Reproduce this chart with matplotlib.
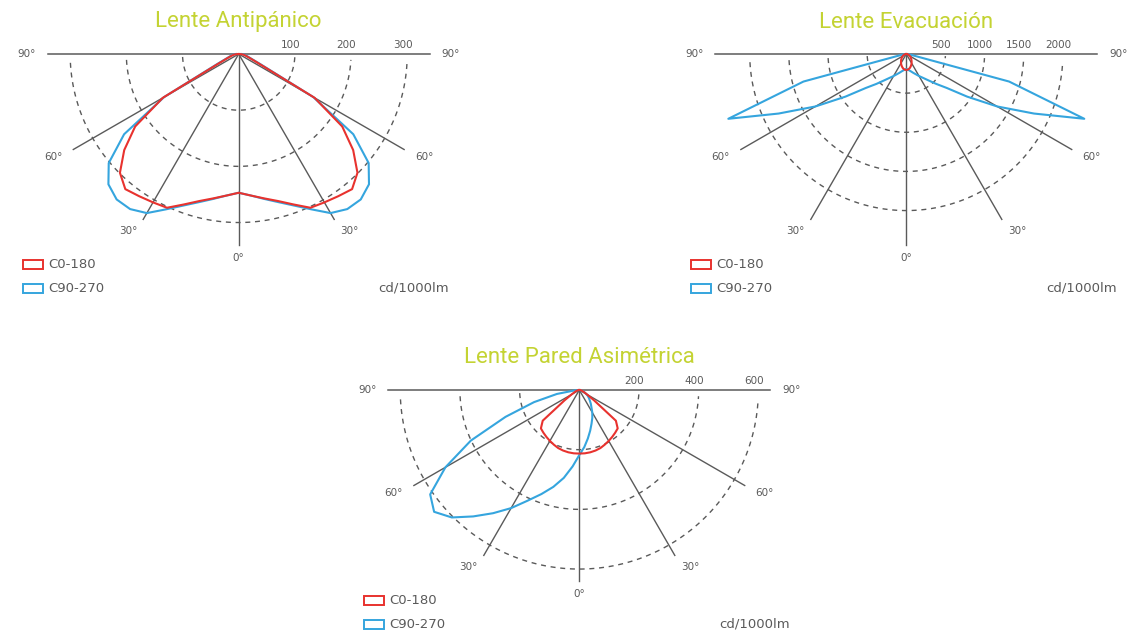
import numpy as np
import matplotlib.pyplot as plt
from matplotlib.patches import Rectangle

# углы от надира, градусы (шаг 5°)
ang = [0, 5, 10, 15, 20, 25, 30, 35, 40, 45, 50, 55, 60, 65, 70, 75, 80, 85, 90]

# Lente Antipánico, cd/1000lm
anti_c0 = [247, 253, 261, 271, 285, 302, 305, 309, 314, 299, 266, 225, 156, 38, 21, 14, 10, 6, 0]
anti_c90 = [247, 253, 262, 273, 287, 305, 327, 337, 338, 328, 302, 249, 153, 42, 23, 16, 12, 9, 5]
anti_ticks = [100, 200, 300]

# Lente Evacuación
evac_c0 = [204, 201, 194, 182, 167, 151, 135, 118, 103, 89, 76, 64, 53, 43, 33, 24, 16, 8, 0]
evac_c90 = [190, 200, 212, 230, 255, 285, 325, 372, 440, 540, 675, 950, 1340, 1800, 2420, 1360, 60, 25, 0]
evac_ticks = [500, 1000, 1500, 2000]

# Lente Pared Asimétrica (C90-270 несимметрична: левая / правая половины)
pared_c0 = [213, 213, 212, 210, 207, 202, 197, 192, 187, 182, 160, 60, 30, 18, 12, 8, 5, 2, 0]
pared_c90_left = [218, 257, 299, 336, 371, 409, 457, 504, 553, 604, 635, 610, 518, 401, 263, 157, 76, 15, 0]
pared_c90_right = [218, 192, 165, 141, 120, 103, 87, 71, 60, 50, 42, 35, 27, 20, 13, 8, 5, 2, 0]
pared_ticks = [200, 400, 600]

deg_labels = ['0°', '30°', '60°', '90°']
legend_names = ['C0-180', 'C90-270']
unit = 'cd/1000lm'

red = '#e8322e'
blue = '#35a5de'
grey = '#5a5a5a'
green = '#c4d333'

W, H = 1128, 638
fig = plt.figure(figsize=(W / 100, H / 100), dpi=100)


def polar_xy(left, right):
    th = np.radians(np.r_[-np.array(ang[::-1]), ang[1:]])
    r = np.r_[np.array(left[::-1]), np.array(right[1:])]
    return r * np.sin(th), -r * np.cos(th)


def diagram(cx, cy, rmax, ticks, c0, c90_left, c90_right, title):
    s = 191 / rmax  # пикселей на 1 cd
    ax = fig.add_axes([(cx - 235) / W, 1 - (cy + 250) / H, 470 / W, 300 / H])
    ax.set_xlim(-235 / s, 235 / s)
    ax.set_ylim(-250 / s, 50 / s)
    ax.axis('off')

    # сетка: дуги и лучи
    phi = np.radians(np.linspace(-87, 87, 120))
    for t in ticks:
        ax.plot(t * np.sin(phi), -t * np.cos(phi), color=grey, lw=1.0,
                dashes=(3.6, 3.4), zorder=1)
        ax.text(t - 4.5 / s, 8.7 / s, str(t), ha='center', va='center',
                fontsize=7.5, color=grey)
    ax.plot([-rmax, rmax], [0, 0], color=grey, lw=1.1, zorder=2)
    for a in [-60, -30, 0, 30, 60]:
        ax.plot([0, rmax * np.sin(np.radians(a))], [0, -rmax * np.cos(np.radians(a))],
                color=grey, lw=1.0, zorder=2)

    # подписи углов
    pos = [(0, 1.07), (32, 1.095), (61, 1.11), (90, 1.11)]
    for lab, (a, f) in zip(deg_labels, pos):
        for sg in ([1] if a == 0 else [-1, 1]):
            ax.text(sg * f * rmax * np.sin(np.radians(a)), -f * rmax * np.cos(np.radians(a)),
                    lab, ha='center', va='center', fontsize=7.5, color=grey)

    # кривые силы света
    x, y = polar_xy(c90_left, c90_right)
    ax.plot(x, y, color=blue, lw=1.5, zorder=4, solid_joinstyle='round')
    x, y = polar_xy(c0, c0)
    ax.plot(x, y, color=red, lw=1.5, zorder=5, solid_joinstyle='round')

    # легенда
    for i, (name, col) in enumerate(zip(legend_names, [red, blue])):
        ax.add_patch(Rectangle((-215.7 / s, -(215 + 23.5 * i) / s), 20 / s, 9 / s,
                               fill=False, edgecolor=col, lw=1.4, clip_on=False))
        ax.text(-190.5 / s, -(210.5 + 23.5 * i) / s, name, ha='left', va='center',
                fontsize=9.5, color=grey)
    ax.text(210.5 / s, -234 / s, unit, ha='right', va='center', fontsize=9.5, color=grey)

    ax.text(0, 32 / s, title, ha='center', va='center', fontsize=16, color=green,
            family='Roboto', clip_on=False)


diagram(238.7, 54, 340, anti_ticks, anti_c0, anti_c90, anti_c90, 'Lente Antipánico')
diagram(906.3, 54, 2440, evac_ticks, evac_c0, evac_c90, evac_c90, 'Lente Evacuación')
diagram(579.3, 390, 640, pared_ticks, pared_c0, pared_c90_left, pared_c90_right,
        'Lente Pared Asimétrica')

plt.savefig('out.png', dpi=100)
